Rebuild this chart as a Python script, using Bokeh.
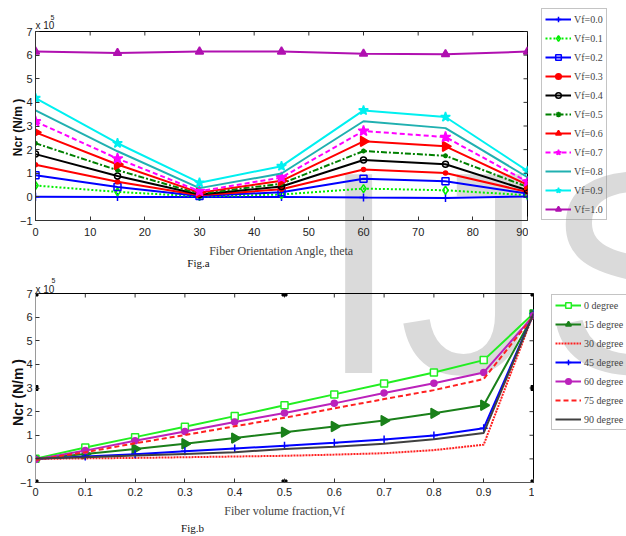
from math import pi
from bokeh.plotting import figure
from bokeh.models import Range1d, FixedTicker, Legend, LegendItem
from bokeh.core.properties import value
from bokeh.layouts import column, row
from bokeh.embed import file_html
from bokeh.resources import INLINE

# ---------------- data (Ncr in units of 1e5 N/m) ----------------
angles = [0, 15, 30, 45, 60, 75, 90]
vf_values = [0.0, 0.1, 0.2, 0.3, 0.4, 0.5, 0.6, 0.7, 0.8, 0.9, 1.0]
vf_labels = ["Vf=0.0", "Vf=0.1", "Vf=0.2", "Vf=0.3", "Vf=0.4", "Vf=0.5",
             "Vf=0.6", "Vf=0.7", "Vf=0.8", "Vf=0.9", "Vf=1.0"]

# one list per fibre volume fraction, values at each angle
ncr_vf00 = [0.01, 0.00, 0.00, 0.00, -0.03, -0.05, 0.02]
ncr_vf01 = [0.48, 0.21, 0.02, 0.10, 0.35, 0.28, 0.07]
ncr_vf02 = [0.92, 0.42, 0.04, 0.20, 0.77, 0.66, 0.14]
ncr_vf03 = [1.36, 0.64, 0.07, 0.32, 1.16, 1.01, 0.21]
ncr_vf04 = [1.81, 0.88, 0.10, 0.44, 1.56, 1.38, 0.28]
ncr_vf05 = [2.27, 1.13, 0.13, 0.56, 1.94, 1.74, 0.42]
ncr_vf06 = [2.73, 1.37, 0.18, 0.68, 2.35, 2.14, 0.51]
ncr_vf07 = [3.19, 1.62, 0.24, 0.82, 2.79, 2.53, 0.64]
ncr_vf08 = [3.66, 1.93, 0.37, 0.99, 3.20, 2.91, 0.83]
ncr_vf09 = [4.18, 2.27, 0.60, 1.30, 3.66, 3.38, 1.10]
ncr_vf10 = [6.15, 6.09, 6.15, 6.15, 6.06, 6.04, 6.15]
ncr_rows = [ncr_vf00, ncr_vf01, ncr_vf02, ncr_vf03, ncr_vf04, ncr_vf05,
            ncr_vf06, ncr_vf07, ncr_vf08, ncr_vf09, ncr_vf10]

angle_labels = ["0 degree", "15 degree", "30 degree", "45 degree",
                "60 degree", "75 degree", "90 degree"]

x_ticks_a = [0, 10, 20, 30, 40, 50, 60, 70, 80, 90]
y_ticks = [-1, 0, 1, 2, 3, 4, 5, 6, 7]
x_ticks_b = [0, 0.1, 0.2, 0.3, 0.4, 0.5, 0.6, 0.7, 0.8, 0.9, 1]
x_tick_labels_b = ["0", "0.1", "0.2", "0.3", "0.4", "0.5", "0.6", "0.7", "0.8", "0.9", "1"]

# selection handles visible on the lower axes box
handle_x = [0, 0.5, 1, 0, 1, 0, 0.5, 1]
handle_y = [7, 7, 7, 3, 3, -1, -1, -1]

watermark_text = "IJS"
y_label = "Ncr (N/m )"

# ---------------- styles ----------------
TICK_FONT = "Liberation Sans"
SERIF = "Liberation Serif"
Y0, Y1 = -1, 7
REL = {"position": "relative"}

styles_a = [
    dict(color="#0000ff", dash="solid", marker="cross", size=8, fill=None),
    dict(color="#00ee00", dash="2 2", marker="diamond", size=8, fill=None),
    dict(color="#0000ff", dash="solid", marker="square", size=7, fill=None),
    dict(color="#ff0000", dash="solid", marker="circle", size=4, fill="#ff0000"),
    dict(color="#000000", dash="solid", marker="circle", size=6, fill=None),
    dict(color="#008000", dash="6 2 2 2", marker="asterisk", size=5, fill=None),
    dict(color="#ff0000", dash="solid", marker="triangle", size=10, fill="#ff0000", angle=-pi / 2),
    dict(color="#ff00ff", dash="5 3", marker="star", size=11, fill="#ff00ff"),
    dict(color="#20b0b0", dash="solid", marker=None),
    dict(color="#00f0f0", dash="solid", marker="star", size=10, fill="#00f0f0"),
    dict(color="#b010b0", dash="solid", marker="triangle", size=8, fill="#b010b0"),
]

styles_b = [
    dict(color="#22ee22", dash="solid", marker="square", size=7, fill="white"),
    dict(color="#1a801a", dash="solid", marker="triangle", size=10, fill="#1a801a", angle=-pi / 2),
    dict(color="#ff2020", dash="2 1", marker=None),
    dict(color="#0000ff", dash="solid", marker="cross", size=8, fill=None),
    dict(color="#bb22bb", dash="solid", marker="circle", size=6, fill="#bb22bb"),
    dict(color="#ff2020", dash="5 3", marker=None),
    dict(color="#404040", dash="solid", marker=None),
]


def bare_fig(w, h, xr, yr, **kw):
    p = figure(width=w, height=h, x_range=xr, y_range=yr,
               output_backend="svg", toolbar_location=None, title_location=None,
               x_axis_type=None, y_axis_type=None,
               min_border_left=0, min_border_right=0, min_border_top=0, min_border_bottom=0, **kw)
    p.xgrid.visible = False
    p.ygrid.visible = False
    p.outline_line_color = None
    p.background_fill_color = None
    p.border_fill_color = None
    return p


def make_fig(width, height, x0, x1, border):
    p = figure(width=width, height=height, x_range=Range1d(x0, x1), y_range=Range1d(Y0, Y1),
               output_backend="svg", toolbar_location=None, title_location=None,
               min_border_left=border[0], min_border_right=border[1],
               min_border_top=border[2], min_border_bottom=border[3], styles=REL)
    p.xgrid.visible = False
    p.ygrid.visible = False
    p.outline_line_color = "black"
    p.background_fill_color = None
    p.border_fill_color = None
    return p


def add_series(p, xs, ys, st, **kw):
    rs = [p.line(xs, ys, line_color=st["color"], line_width=2, line_dash=st["dash"], **kw)]
    if st.get("marker"):
        rs.append(p.scatter(xs, ys, marker=st["marker"], size=st["size"],
                            line_color=st["color"], line_width=1.5,
                            fill_color=st["fill"], angle=st.get("angle", 0), **kw))
    return rs


def decorate(p, xticks, x0, x1, frame_w, xlabel, axis_colors, tick_standoff):
    for ax, ticks, col in ((p.xaxis[0], xticks, axis_colors[0]), (p.yaxis[0], y_ticks, axis_colors[1])):
        ax.ticker = FixedTicker(ticks=ticks)
        ax.major_tick_in = 4
        ax.major_tick_out = 0
        ax.minor_tick_in = 0
        ax.minor_tick_out = 0
        ax.axis_line_color = col
        ax.major_tick_line_color = "#333333"
        ax.major_label_text_font = TICK_FONT
        ax.major_label_text_font_size = "11px"
        ax.major_label_text_color = "#222222"
    p.xaxis[0].major_label_standoff = tick_standoff
    p.yaxis[0].major_label_standoff = 3
    p.xaxis[0].axis_label = xlabel
    p.xaxis[0].axis_label_text_font = SERIF
    p.xaxis[0].axis_label_text_font_style = "normal"
    p.xaxis[0].axis_label_text_font_size = "12px"
    p.xaxis[0].axis_label_standoff = 5
    # mirrored inward ticks on the top and right sides of the box
    dy = 4 * (Y1 - Y0) / 189
    dx = 4 * (x1 - x0) / frame_w
    p.segment(x0=xticks, y0=[Y1] * len(xticks), x1=xticks, y1=[Y1 - dy] * len(xticks),
              line_color="#333333", line_width=1)
    p.segment(x0=[x1] * len(y_ticks), y0=y_ticks, x1=[x1 - dx] * len(y_ticks), y1=y_ticks,
              line_color="#333333", line_width=1)


# ---------------- Fig.a ----------------
p1 = make_fig(528, 270, 0, 90, (35, 1, 31, 50))
for row_vals, st in zip(ncr_rows, styles_a):
    add_series(p1, angles, row_vals, st)
decorate(p1, x_ticks_a, 0, 90, 492, "Fiber Orientation Angle, theta", ("#333333", "#333333"), 7)

# ---------------- Fig.b ----------------
series_b = [[r[j] for r in ncr_rows] for j in range(len(angles))]
p2 = make_fig(534, 266, 0, 1, (35, 1, 23, 54))
for ys, st in zip(series_b, styles_b):
    add_series(p2, vf_values, ys, st)
decorate(p2, x_ticks_b, 0, 1, 498, "Fiber volume fraction,Vf", ("#555555", "#9a9a9a"), 5)
p2.xaxis[0].major_label_overrides = dict(zip(x_ticks_b, x_tick_labels_b))
p2.scatter(handle_x, handle_y, marker="square", size=5, fill_color="black", line_color="black")

# empty transparent fillers to the right of each panel
fa = bare_fig(98, 270, Range1d(0, 1), Range1d(0, 1), styles=REL)
fb = bare_fig(92, 266, Range1d(0, 1), Range1d(0, 1), styles=REL)

# ------- page layer behind both panels: watermark, legends, captions (pixel coords) -------
pw = bare_fig(626, 536, Range1d(0, 626), Range1d(536, 0),
              styles={"position": "absolute", "top": "0px", "left": "0px"})
pw.extra_x_ranges = {"off": Range1d(1000, 1001)}
pw.extra_y_ranges = {"off": Range1d(1000, 1001)}

pw.text(x=[318], y=[272], text=[watermark_text], text_font=value("Liberation Sans"),
        text_font_size="289px", text_color="#dadada", text_baseline="alphabetic")


def page_text(x, y, txt, font, size, align="left", baseline="alphabetic", angle=0, style="normal",
              color="#222222"):
    pw.text(x=[x], y=[y], text=[txt], text_font=value(font), text_font_size=size,
            text_align=align, text_baseline=baseline, angle=angle, text_font_style=style,
            text_color=color)


# exponent labels
page_text(35, 25, "x 10", TICK_FONT, "10px")
page_text(50, 17, "5", TICK_FONT, "7px")
page_text(35, 289, "x 10", TICK_FONT, "10px")
page_text(51, 280, "5", TICK_FONT, "7px")
# y axis titles
page_text(17, 127, y_label, "Liberation Sans", "12px", "center", "middle", pi / 2, "bold", "#111111")
page_text(17, 392, y_label, "Liberation Sans", "14px", "center", "middle", pi / 2, "bold", "#111111")
# captions
page_text(198, 262, "Fig.a", SERIF, "11px", "center", "middle", color="#111111")
page_text(192, 527, "Fig.b", SERIF, "11px", "center", "middle", color="#111111")


def page_legend(labels, xs_list, ys_list, styles, loc):
    items = []
    for lab, xs, ys, st in zip(labels, xs_list, ys_list, styles):
        rs = add_series(pw, xs, ys, st, x_range_name="off", y_range_name="off")
        items.append(LegendItem(label=lab, renderers=rs))
    pw.add_layout(Legend(items=items, location=loc, orientation="vertical",
                         glyph_width=26, glyph_height=14, label_height=14, spacing=5,
                         padding=3, margin=0, label_standoff=3,
                         label_text_font=SERIF, label_text_font_size="10px",
                         border_line_color="#8a8a8a", border_line_width=1,
                         background_fill_alpha=0.0))


page_legend(vf_labels, [angles] * len(ncr_rows), ncr_rows, styles_a, (541, 316))
page_legend(angle_labels, [vf_values] * len(series_b), series_b, styles_b, (551, 106))

layout = column(pw, row(p1, fa, spacing=0, styles=REL), row(p2, fb, spacing=0, styles=REL),
                spacing=0, styles=REL)
open("out.html", "w").write(file_html(layout, INLINE))
